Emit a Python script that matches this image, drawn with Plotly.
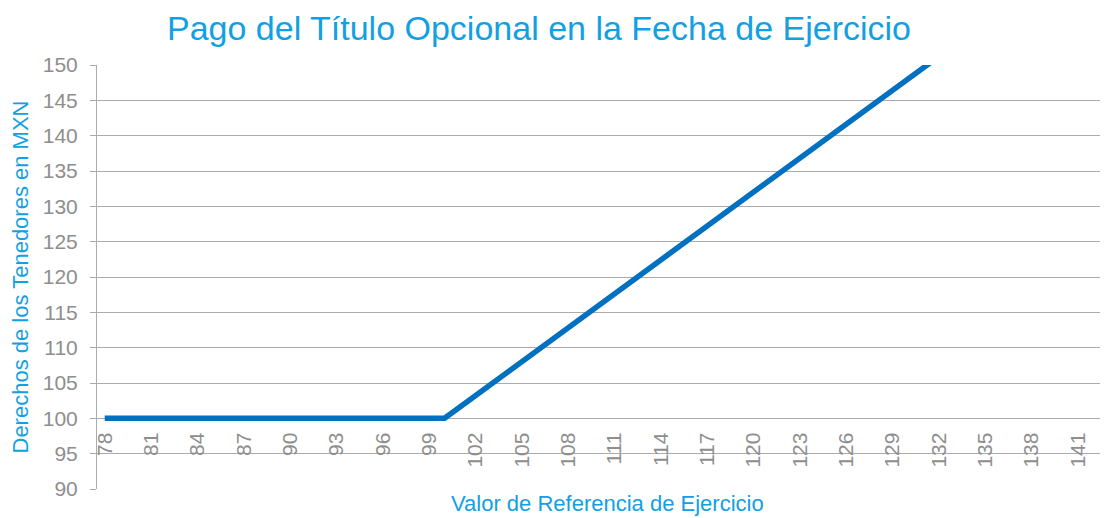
import plotly.graph_objects as go

# Data
valor_referencia = list(range(78, 143))
derechos = [
    100, 100, 100, 100, 100, 100, 100, 100, 100, 100,   # 78-87
    100, 100, 100, 100, 100, 100, 100, 100, 100, 100,   # 88-97
    100, 100, 100,                                      # 98-100
    101.6, 103.2, 104.8, 106.4, 108.0, 109.6, 111.2,    # 101-107
    112.8, 114.4, 116.0, 117.6, 119.2, 120.8, 122.4,    # 108-114
    124.0, 125.6, 127.2, 128.8, 130.4, 132.0, 133.6,    # 115-121
    135.2, 136.8, 138.4, 140.0, 141.6, 143.2, 144.8,    # 122-128
    146.4, 148.0, 149.6, 151.2, 152.8, 154.4, 156.0,    # 129-135
    157.6, 159.2, 160.8, 162.4, 164.0, 165.6, 167.2,    # 136-142
]
x_tick_labels = list(range(78, 143, 3))
y_tick_values = list(range(90, 151, 5))

title_text = "Pago del Título Opcional en la Fecha de Ejercicio"
x_title = "Valor de Referencia de Ejercicio"
y_title = "Derechos de los Tenedores en MXN"

BLUE_TXT = "#12a0e3"
LINE_BLUE = "#0070c0"
GRAY_TXT = "#8e8e8e"
GRID = "#ababab"
FONT = "Liberation Sans, Arial, sans-serif"

# the page body adds an 8px offset; the figure fills the rest of the 1108x518 window
W, H = 1100, 510
L, T, B = 89, 57, 29
plot_h = H - T - B

fig = go.Figure()
fig.add_trace(go.Scatter(
    x=valor_referencia, y=derechos, mode="lines",
    line=dict(color=LINE_BLUE, width=5.5),
    showlegend=False, hoverinfo="x+y",
))

fig.update_layout(
    width=W, height=H,
    margin=dict(l=L, r=0, t=T, b=B, autoexpand=False),
    paper_bgcolor="white", plot_bgcolor="white",
    font=dict(family=FONT, color=GRAY_TXT, size=20),
    title=dict(text=title_text, font=dict(family=FONT, size=34, color=BLUE_TXT),
               x=531 / W, xref="container", xanchor="center",
               y=1 - 20 / H, yref="container", yanchor="middle"),
    xaxis=dict(
        range=[77.5, 142.96], anchor="free", position=(100 - 90) / (150 - 90),
        tickvals=x_tick_labels, ticktext=[str(v) for v in x_tick_labels],
        tickangle=-90, ticks="", showgrid=False, showline=False, zeroline=False,
        tickfont=dict(family=FONT, size=21, color=GRAY_TXT),
        ticklabelstandoff=9, automargin=False,
    ),
    yaxis=dict(
        range=[90, 150], tickvals=y_tick_values,
        showgrid=True, gridcolor=GRID, gridwidth=1,
        showline=True, linecolor=GRID, linewidth=1,
        ticks="outside", ticklen=6, tickcolor=GRID,
        zeroline=False, automargin=False,
        tickfont=dict(family=FONT, size=21, color=GRAY_TXT),
        ticklabelstandoff=8,
        title=dict(text=y_title, font=dict(family=FONT, size=22, color=BLUE_TXT), standoff=10),
    ),
    annotations=[dict(
        text=x_title, xref="paper", yref="paper",
        x=(599 - L) / (W - L), y=-14 / plot_h,
        xanchor="center", yanchor="middle", showarrow=False,
        font=dict(family=FONT, size=22, color=BLUE_TXT),
    )],
)

fig.write_html("out.html")
